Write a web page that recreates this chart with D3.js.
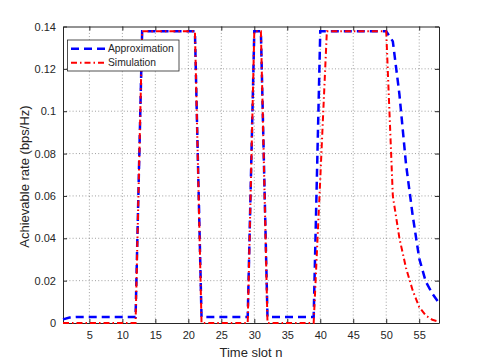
<!DOCTYPE html>
<html>
<head>
<meta charset="utf-8">
<script src="https://cdn.jsdelivr.net/npm/d3@7"></script>
<style>
  body { margin: 0; background: #fff; }
  svg { display: block; font-family: "Liberation Sans", Arial, Helvetica, sans-serif; }
</style>
</head>
<body>
<div id="canvas"></div>
<script>
// time slots and the two rate curves
const slots = [1, 2, 3, 4, 5, 6, 7, 8, 9, 10, 11, 12, 13, 14, 15, 16, 17, 18, 19, 20,
  21, 22, 23, 24, 25, 26, 27, 28, 29, 30, 31, 32, 33, 34, 35, 36, 37, 38, 39, 40,
  41, 42, 43, 44, 45, 46, 47, 48, 49, 50, 51, 52, 53, 54, 55, 56, 57, 58];

const approximation = [0.0017, 0.0026, 0.0028, 0.0028, 0.0028, 0.0028, 0.0028, 0.0028, 0.0028, 0.0028,
  0.0028, 0.0028, 0.1377, 0.1377, 0.1377, 0.1377, 0.1377, 0.1377, 0.1377, 0.1377,
  0.1377, 0.0028, 0.0028, 0.0028, 0.0028, 0.0028, 0.0028, 0.0028, 0.0028, 0.1377,
  0.1377, 0.0028, 0.0028, 0.0028, 0.0028, 0.0028, 0.0028, 0.0028, 0.0028, 0.1377,
  0.1377, 0.1377, 0.1377, 0.1377, 0.1377, 0.1377, 0.1377, 0.1377, 0.1377, 0.1377,
  0.133, 0.108, 0.075, 0.051, 0.0305, 0.0195, 0.0138, 0.0094];

const simulation = [0, 0, 0, 0, 0, 0, 0, 0, 0, 0,
  0, 0, 0.1377, 0.1377, 0.1377, 0.1377, 0.1377, 0.1377, 0.1377, 0.1377,
  0.1377, 0, 0, 0, 0, 0, 0, 0, 0, 0.1377,
  0.1377, 0, 0, 0, 0, 0, 0, 0, 0, 0.068,
  0.1377, 0.1377, 0.1377, 0.1377, 0.1377, 0.1377, 0.1377, 0.1377, 0.1377, 0.1377,
  0.06, 0.04, 0.026, 0.0155, 0.0075, 0.0035, 0.0015, 0.0006];

const xTicks = [5, 10, 15, 20, 25, 30, 35, 40, 45, 50, 55];
const yTicks = [0, 0.02, 0.04, 0.06, 0.08, 0.1, 0.12, 0.14];
const seriesNames = ["Approximation", "Simulation"];

const width = 485, height = 363;
const mLeft = 63, mRight = 439, mTop = 26.5, mBottom = 323;
const ink = "#262626";

const svg = d3.select('#canvas').append('svg')
  .attr('width', width)
  .attr('height', height);

const x = d3.scaleLinear().domain([1, 58]).range([mLeft, mRight]);
const y = d3.scaleLinear().domain([0, 0.14]).range([mBottom, mTop]);

// grid
svg.append('g').selectAll('line').data(xTicks).enter().append('line')
  .attr('x1', d => x(d)).attr('x2', d => x(d))
  .attr('y1', mTop).attr('y2', mBottom)
  .attr('stroke', ink).attr('stroke-opacity', 0.55)
  .attr('stroke-width', 0.8).attr('stroke-dasharray', '1,2.2');
svg.append('g').selectAll('line').data(yTicks.slice(1, -1)).enter().append('line')
  .attr('x1', mLeft).attr('x2', mRight)
  .attr('y1', d => y(d)).attr('y2', d => y(d))
  .attr('stroke', ink).attr('stroke-opacity', 0.55)
  .attr('stroke-width', 0.8).attr('stroke-dasharray', '1,2.2');

// axes (ticks pointing inward, like matlab)
const xAxis = svg.append('g').attr('transform', `translate(0,${mBottom})`)
  .call(d3.axisBottom(x).tickValues(xTicks).tickSizeInner(-4).tickSizeOuter(0).tickPadding(8));
const yAxis = svg.append('g').attr('transform', `translate(${mLeft},0)`)
  .call(d3.axisLeft(y).tickValues(yTicks).tickFormat(d => d === 0 ? '0' : String(+d.toFixed(2)))
    .tickSizeInner(-4).tickSizeOuter(0).tickPadding(7));
svg.append('g').attr('transform', `translate(0,${mTop})`)
  .call(d3.axisTop(x).tickValues(xTicks).tickSizeInner(-4).tickSizeOuter(0).tickFormat(''));
svg.append('g').attr('transform', `translate(${mRight},0)`)
  .call(d3.axisRight(y).tickValues(yTicks).tickSizeInner(-4).tickSizeOuter(0).tickFormat(''));

svg.selectAll('.domain').attr('stroke', ink).attr('stroke-width', 1);
svg.selectAll('.tick line').attr('stroke', ink);
[xAxis, yAxis].forEach(a => a.selectAll('text')
  .attr('fill', ink).style('font-size', '11px')
  .style('font-family', '"Liberation Sans", Arial, sans-serif'));

// lines
const rows = slots.map((n, i) => ({ n: n, a: approximation[i], s: simulation[i] }));

svg.append('path').datum(rows)
  .attr('fill', 'none').attr('stroke', '#0000ff')
  .attr('stroke-width', 2.5).attr('stroke-dasharray', '8,5')
  .attr('d', d3.line().x(d => x(d.n)).y(d => y(d.a)));

svg.append('path').datum(rows)
  .attr('fill', 'none').attr('stroke', '#ff0000')
  .attr('stroke-width', 2).attr('stroke-dasharray', '6,3,1.5,3')
  .attr('d', d3.line().x(d => x(d.n)).y(d => y(d.s)));

// legend
const lg = svg.append('g');
lg.append('rect')
  .attr('x', 67.5).attr('y', 40).attr('width', 111.5).attr('height', 31)
  .attr('fill', '#fff').attr('stroke', ink).attr('stroke-width', 0.8);
const legendStyle = [
  { color: '#0000ff', w: 2.5, dash: '8,5' },
  { color: '#ff0000', w: 2, dash: '6,3,1.5,3' }
];
seriesNames.forEach((name, i) => {
  const yy = 48.7 + i * 14;
  lg.append('line')
    .attr('x1', 71).attr('x2', 106).attr('y1', yy).attr('y2', yy)
    .attr('stroke', legendStyle[i].color).attr('stroke-width', legendStyle[i].w)
    .attr('stroke-dasharray', legendStyle[i].dash);
  lg.append('text')
    .attr('x', 108).attr('y', yy + 3.6)
    .attr('fill', ink).style('font-size', '10.3px')
    .text(name);
});

// axis labels
svg.append('text')
  .attr('x', (mLeft + mRight) / 2).attr('y', 357)
  .attr('text-anchor', 'middle').attr('fill', ink)
  .style('font-size', '13px')
  .text('Time slot n');

svg.append('text')
  .attr('transform', 'translate(29,176.5) rotate(-90)')
  .attr('text-anchor', 'middle').attr('fill', ink)
  .style('font-size', '13px')
  .text('Achievable rate (bps/Hz)');
</script>
</body>
</html>
